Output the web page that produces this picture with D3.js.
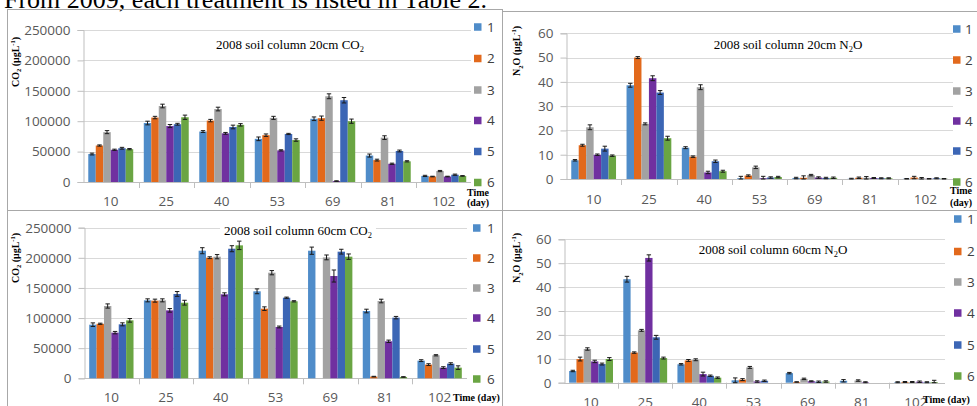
<!DOCTYPE html>
<html><head><meta charset="utf-8">
<script src="https://cdn.jsdelivr.net/npm/d3@7"></script>
<style>body{margin:0;background:#fff;overflow:hidden}svg{display:block}</style>
</head><body>
<svg id="chart" width="977" height="406"></svg>
<script>
// ---------------- data ----------------
const days = ["10", "25", "40", "53", "69", "81", "102"];
const treatments = ["1", "2", "3", "4", "5", "6"];
const co2Ticks = [0, 50000, 100000, 150000, 200000, 250000];
const n2oTicks = [0, 10, 20, 30, 40, 50, 60];

// rows = sampling day, columns = treatment 1..6
const co2_20cm = [
  [46000, 60000, 82000, 53000, 55500, 54000],
  [97000, 106000, 125000, 92000, 95000, 106500],
  [83000, 101000, 120000, 80000, 90500, 94000],
  [71000, 77000, 105500, 52000, 79000, 69000],
  [104000, 105000, 141000, 1500, 134500, 100000],
  [43500, 36000, 73000, 30000, 51000, 34000],
  [10000, 9000, 18000, 9000, 12000, 10000]
];
const co2_20cm_err = [
  [1500, 1000, 2500, 1000, 1500, 1000],
  [3000, 2000, 3000, 2500, 1500, 3500],
  [1500, 2000, 3000, 1500, 3000, 2000],
  [3000, 2000, 2500, 1000, 1000, 2000],
  [3000, 3500, 4000, 500, 4500, 3500],
  [2500, 1500, 3000, 1000, 1500, 1000],
  [1000, 500, 1000, 500, 1000, 500]
];
const n2o_20cm = [
  [7.7, 13.9, 21.3, 10.0, 12.5, 9.6],
  [38.6, 50.0, 22.7, 41.5, 35.6, 16.8],
  [12.9, 9.2, 37.8, 2.7, 7.3, 3.2],
  [0.3, 1.4, 4.8, 0.3, 0.6, 0.8],
  [0.4, 0.5, 1.6, 0.6, 0.4, 0.5],
  [0.1, 0.5, 0.5, 0.4, 0.3, 0.3],
  [0.1, 0.6, 0.3, 0.1, 0.3, 0.1]
];
const n2o_20cm_err = [
  [0.3, 0.4, 1.0, 0.3, 1.0, 0.3],
  [0.8, 0.4, 0.4, 1.0, 0.8, 0.8],
  [0.4, 0.3, 1.0, 0.5, 0.5, 0.4],
  [0.8, 0.3, 0.5, 0.8, 0.3, 0.3],
  [0.3, 0.8, 0.3, 0.3, 0.3, 0.3],
  [0.2, 0.3, 0.5, 0.2, 0.2, 0.2],
  [0.1, 0.5, 0.3, 0.1, 0.2, 0.1]
];
const co2_60cm = [
  [89000, 90500, 120000, 75800, 89600, 96200],
  [129400, 128900, 129400, 112800, 140000, 125500],
  [211800, 200200, 201900, 139400, 215100, 220700],
  [144400, 115600, 175300, 85200, 133800, 127800],
  [211800, 0, 200700, 169800, 210200, 201900],
  [111700, 2800, 128300, 61400, 100700, 2200],
  [29300, 22700, 38200, 17700, 24300, 17700]
];
const co2_60cm_err = [
  [3000, 1000, 3500, 2000, 2500, 3000],
  [2500, 2500, 2500, 3000, 4000, 4000],
  [5000, 1500, 3500, 2500, 5000, 7000],
  [4000, 3000, 3500, 1500, 1000, 1000],
  [6000, 0, 4000, 10000, 4000, 4500],
  [3000, 500, 3000, 2000, 2000, 500],
  [1500, 1500, 1000, 1500, 1500, 3000]
];
const n2o_60cm = [
  [4.9, 9.9, 14.1, 8.9, 7.8, 9.9],
  [43.3, 12.6, 21.9, 52.2, 19.0, 10.3],
  [7.7, 9.3, 9.6, 3.6, 2.9, 2.1],
  [1.0, 1.3, 6.4, 0.5, 0.8, 0],
  [4.0, 0.3, 1.6, 0.6, 0.4, 0.5],
  [0.8, 0, 0.9, 0.2, 0, 0],
  [0.2, 0.3, 0.3, 0.4, 0.2, 0.3]
];
const n2o_60cm_err = [
  [0.3, 0.8, 0.5, 0.5, 0.4, 0.6],
  [1.2, 0.3, 0.4, 1.3, 0.8, 0.4],
  [0.3, 0.4, 0.4, 0.8, 0.3, 0.3],
  [1.0, 0.4, 0.4, 0.3, 0.3, 0],
  [0.3, 0.1, 0.3, 0.2, 0.3, 0.3],
  [0.5, 0, 0.3, 0.2, 0, 0],
  [0.2, 0.2, 0.2, 0.3, 0.2, 0.7]
];

// ---------------- styles ----------------
const colors = ["#4F8CC9", "#E2691C", "#A2A2A2", "#7030A0", "#3C66B5", "#6AA543"];
const sansFont = "'Open Sans', 'Liberation Sans', sans-serif";
const serifFont = "'Liberation Serif', 'Times New Roman', serif";

const svg = d3.select("#chart");
svg.append("rect").attr("width", 977).attr("height", 406).attr("fill", "#fff");

function richText(textSel, parts, fs) {
  let shift = 0;
  parts.forEach(p => {
    const target = p.sub ? fs * 0.25 : (p.sup ? -fs * 0.4 : 0);
    const t = textSel.append("tspan").attr("dy", target - shift).text(p.t);
    if (p.sub || p.sup) t.attr("font-size", fs * 0.65);
    shift = target;
  });
}

// heading text of the page (cut off at top)
svg.append("text").attr("x", 4).attr("y", 7.5)
  .attr("font-family", serifFont).attr("font-size", 26).attr("fill", "#000")
  .text("From 2009, each treatment is listed in Table 2.");

// panel frames
const frame = svg.append("g").attr("stroke", "#A8A8A8").attr("stroke-width", 1).attr("fill", "none");
frame.append("line").attr("x1", 7).attr("y1", 9.5).attr("x2", 502).attr("y2", 9.5);
frame.append("line").attr("x1", 502).attr("y1", 11.5).attr("x2", 977).attr("y2", 11.5);
frame.append("line").attr("x1", 7.5).attr("y1", 9).attr("x2", 7.5).attr("y2", 406);
frame.append("line").attr("x1", 502.5).attr("y1", 9).attr("x2", 502.5).attr("y2", 406);
frame.append("line").attr("x1", 7).attr("y1", 210.5).attr("x2", 977).attr("y2", 210.5);

const co2Label = [{t: "CO"}, {t: "2", sub: 1}, {t: " (μgL"}, {t: "-1", sup: 1}, {t: ")"}];
const n2oLabel = [{t: "N"}, {t: "2", sub: 1}, {t: "O (μgL"}, {t: "-1", sup: 1}, {t: ")"}];

const panels = [
  {vals: co2_20cm, errs: co2_20cm_err, ticks: co2Ticks, ymax: 250000,
   x0: 83, x1: 471.5, y0: 182, y1: 30, gridEnd: 471,
   title: [{t: "2008 soil column 20cm CO"}, {t: "2", sub: 1}], titleX: 290, titleY: 49, titleBox: true,
   yTitle: co2Label, yTitleX: 18.5, yTitleY: 62,
   legendX: 474, legendLabelX: 487, legendY: [27, 58.5, 90, 120.5, 151.5, 182.5], catY: 205.5,
   time: {two: true, x: 478, y: [195.5, 206]}},
  {vals: n2o_20cm, errs: n2o_20cm_err, ticks: n2oTicks, ymax: 60,
   x0: 566, x1: 953, y0: 179, y1: 33.3, gridEnd: 953,
   title: [{t: "2008 soil column 20cm N"}, {t: "2", sub: 1}, {t: "O"}], titleX: 788, titleY: 49, titleBox: false,
   yTitle: n2oLabel, yTitleX: 520, yTitleY: 51,
   legendX: 953, legendLabelX: 965, legendY: [29, 60, 91, 121, 151, 182], catY: 204,
   time: {two: true, x: 961, y: [194, 205.5]}},
  {vals: co2_60cm, errs: co2_60cm_err, ticks: co2Ticks, ymax: 250000,
   x0: 84, x1: 467, y0: 378.3, y1: 227.7, gridEnd: 467,
   title: [{t: "2008 soil column 60cm CO"}, {t: "2", sub: 1}], titleX: 298, titleY: 235, titleBox: true,
   yTitle: co2Label, yTitleX: 18.5, yTitleY: 258,
   legendX: 473, legendLabelX: 487, legendY: [228, 258, 288, 318, 349, 379], catY: 401.5,
   time: {two: false, x: 453, y: [400.5]}},
  {vals: n2o_60cm, errs: n2o_60cm_err, ticks: n2oTicks, ymax: 60,
   x0: 564, x1: 943, y0: 382.7, y1: 239.3, gridEnd: 945,
   title: [{t: "2008 soil column 60cm N"}, {t: "2", sub: 1}, {t: "O"}], titleX: 773, titleY: 254, titleBox: false,
   yTitle: n2oLabel, yTitleX: 520, yTitleY: 258,
   legendX: 954, legendLabelX: 967, legendY: [219, 251.5, 282, 313, 345, 376], catY: 406.5,
   time: {two: false, x: 923, y: [402.5]}}
];

panels.forEach(p => {
  const g = svg.append("g");
  const x = d3.scaleBand().domain(days).range([p.x0, p.x1]).paddingInner(0.19).paddingOuter(0.095);
  const xs = d3.scaleBand().domain(treatments).range([0, x.bandwidth()]);
  const y = d3.scaleLinear().domain([0, p.ymax]).range([p.y0, p.y1]);

  // gridlines
  g.append("g").selectAll("line").data(p.ticks.filter(t => t > 0)).join("line")
    .attr("x1", p.x0).attr("x2", p.gridEnd)
    .attr("y1", d => Math.round(y(d)) + 0.5).attr("y2", d => Math.round(y(d)) + 0.5)
    .attr("stroke", "#D9D9D9").attr("stroke-width", 1);

  // title (with white backing)
  const tt = g.append("text").attr("x", p.titleX).attr("y", p.titleY)
    .attr("text-anchor", "middle").attr("font-family", serifFont).attr("font-size", 13).attr("fill", "#000");
  richText(tt, p.title, 13);
  if (p.titleBox) {
    const bb = tt.node().getBBox();
    g.insert("rect", "text").attr("x", bb.x - 4).attr("y", bb.y - 6).attr("width", bb.width + 8)
      .attr("height", bb.height + 8).attr("fill", "#fff");
  }

  // y axis
  const ya = g.append("g").attr("transform", `translate(${p.x0 + 0.5},0)`)
    .call(d3.axisLeft(y).tickValues(p.ticks).tickSize(6).tickPadding(7).tickFormat(d3.format("d")));
  ya.select(".domain").attr("stroke", "#BFBFBF");
  ya.selectAll(".tick line").attr("stroke", "#BFBFBF");
  ya.selectAll(".tick text").attr("font-family", sansFont).attr("font-size", 13.5).attr("fill", "#595959");

  // x axis
  const xa = g.append("g").attr("transform", `translate(0,${Math.round(p.y0) + 0.5})`)
    .call(d3.axisBottom(x).tickSize(0).tickPadding(0));
  xa.select(".domain").attr("stroke", "#BFBFBF").attr("d", `M${p.x0},0H${p.gridEnd}`);
  xa.selectAll(".tick text").attr("font-family", sansFont).attr("font-size", 13.5).attr("fill", "#595959")
    .attr("dy", null).attr("y", p.catY - Math.round(p.y0) - 0.5);
  // category separator ticks
  g.append("g").selectAll("line").data(days.slice(1)).join("line")
    .attr("x1", d => Math.round(x(d) - x.step() * 0.095) + 0.5)
    .attr("x2", d => Math.round(x(d) - x.step() * 0.095) + 0.5)
    .attr("y1", p.y0).attr("y2", p.y0 + 6).attr("stroke", "#BFBFBF");

  // bars
  const groups = g.append("g").selectAll("g").data(p.vals).join("g")
    .attr("transform", (d, i) => `translate(${x(days[i])},0)`);
  groups.selectAll("rect").data(d => d).join("rect")
    .attr("x", (d, j) => xs(treatments[j]))
    .attr("width", xs.bandwidth())
    .attr("y", d => y(d))
    .attr("height", d => p.y0 - y(d))
    .attr("fill", (d, j) => colors[j]);

  // error bars
  const eg = g.append("g").attr("stroke", "#1a1a1a").attr("stroke-width", 1);
  p.vals.forEach((row, i) => {
    row.forEach((v, j) => {
      const e = p.errs[i][j];
      if (!(e > 0) || v <= 0) return;
      const cx = x(days[i]) + xs(treatments[j]) + xs.bandwidth() / 2;
      const ya1 = y(v + e), ya2 = y(Math.max(0, v - e));
      eg.append("line").attr("x1", cx).attr("x2", cx).attr("y1", ya1).attr("y2", ya2);
      eg.append("line").attr("x1", cx - 2.2).attr("x2", cx + 2.2).attr("y1", ya1).attr("y2", ya1);
      eg.append("line").attr("x1", cx - 2.2).attr("x2", cx + 2.2).attr("y1", ya2).attr("y2", ya2);
    });
  });

  // y axis title
  const yt = g.append("text").attr("transform", `translate(${p.yTitleX},${p.yTitleY}) rotate(-90)`)
    .attr("text-anchor", "middle").attr("font-family", serifFont).attr("font-weight", "bold")
    .attr("font-size", 10).attr("fill", "#000");
  richText(yt, p.yTitle, 10);

  // legend
  const lg = g.append("g").selectAll("g").data(treatments).join("g");
  lg.append("rect").attr("x", p.legendX).attr("y", (d, j) => p.legendY[j] - 3.75)
    .attr("width", 7.5).attr("height", 7.5).attr("fill", (d, j) => colors[j]);
  lg.append("text").attr("x", p.legendLabelX).attr("y", (d, j) => p.legendY[j] + 4.8)
    .attr("font-family", sansFont).attr("font-size", 13.5).attr("fill", "#404040").text(d => d);

  // time label
  if (p.time.two) {
    ["Time", "(day)"].forEach((s, k) => {
      g.append("text").attr("x", p.time.x).attr("y", p.time.y[k]).attr("text-anchor", "middle")
        .attr("font-family", serifFont).attr("font-weight", "bold").attr("font-size", 10).text(s);
    });
  } else {
    g.append("text").attr("x", p.time.x).attr("y", p.time.y[0])
      .attr("font-family", serifFont).attr("font-weight", "bold").attr("font-size", 10).text("Time (day)");
  }
});
</script>
</body></html>
